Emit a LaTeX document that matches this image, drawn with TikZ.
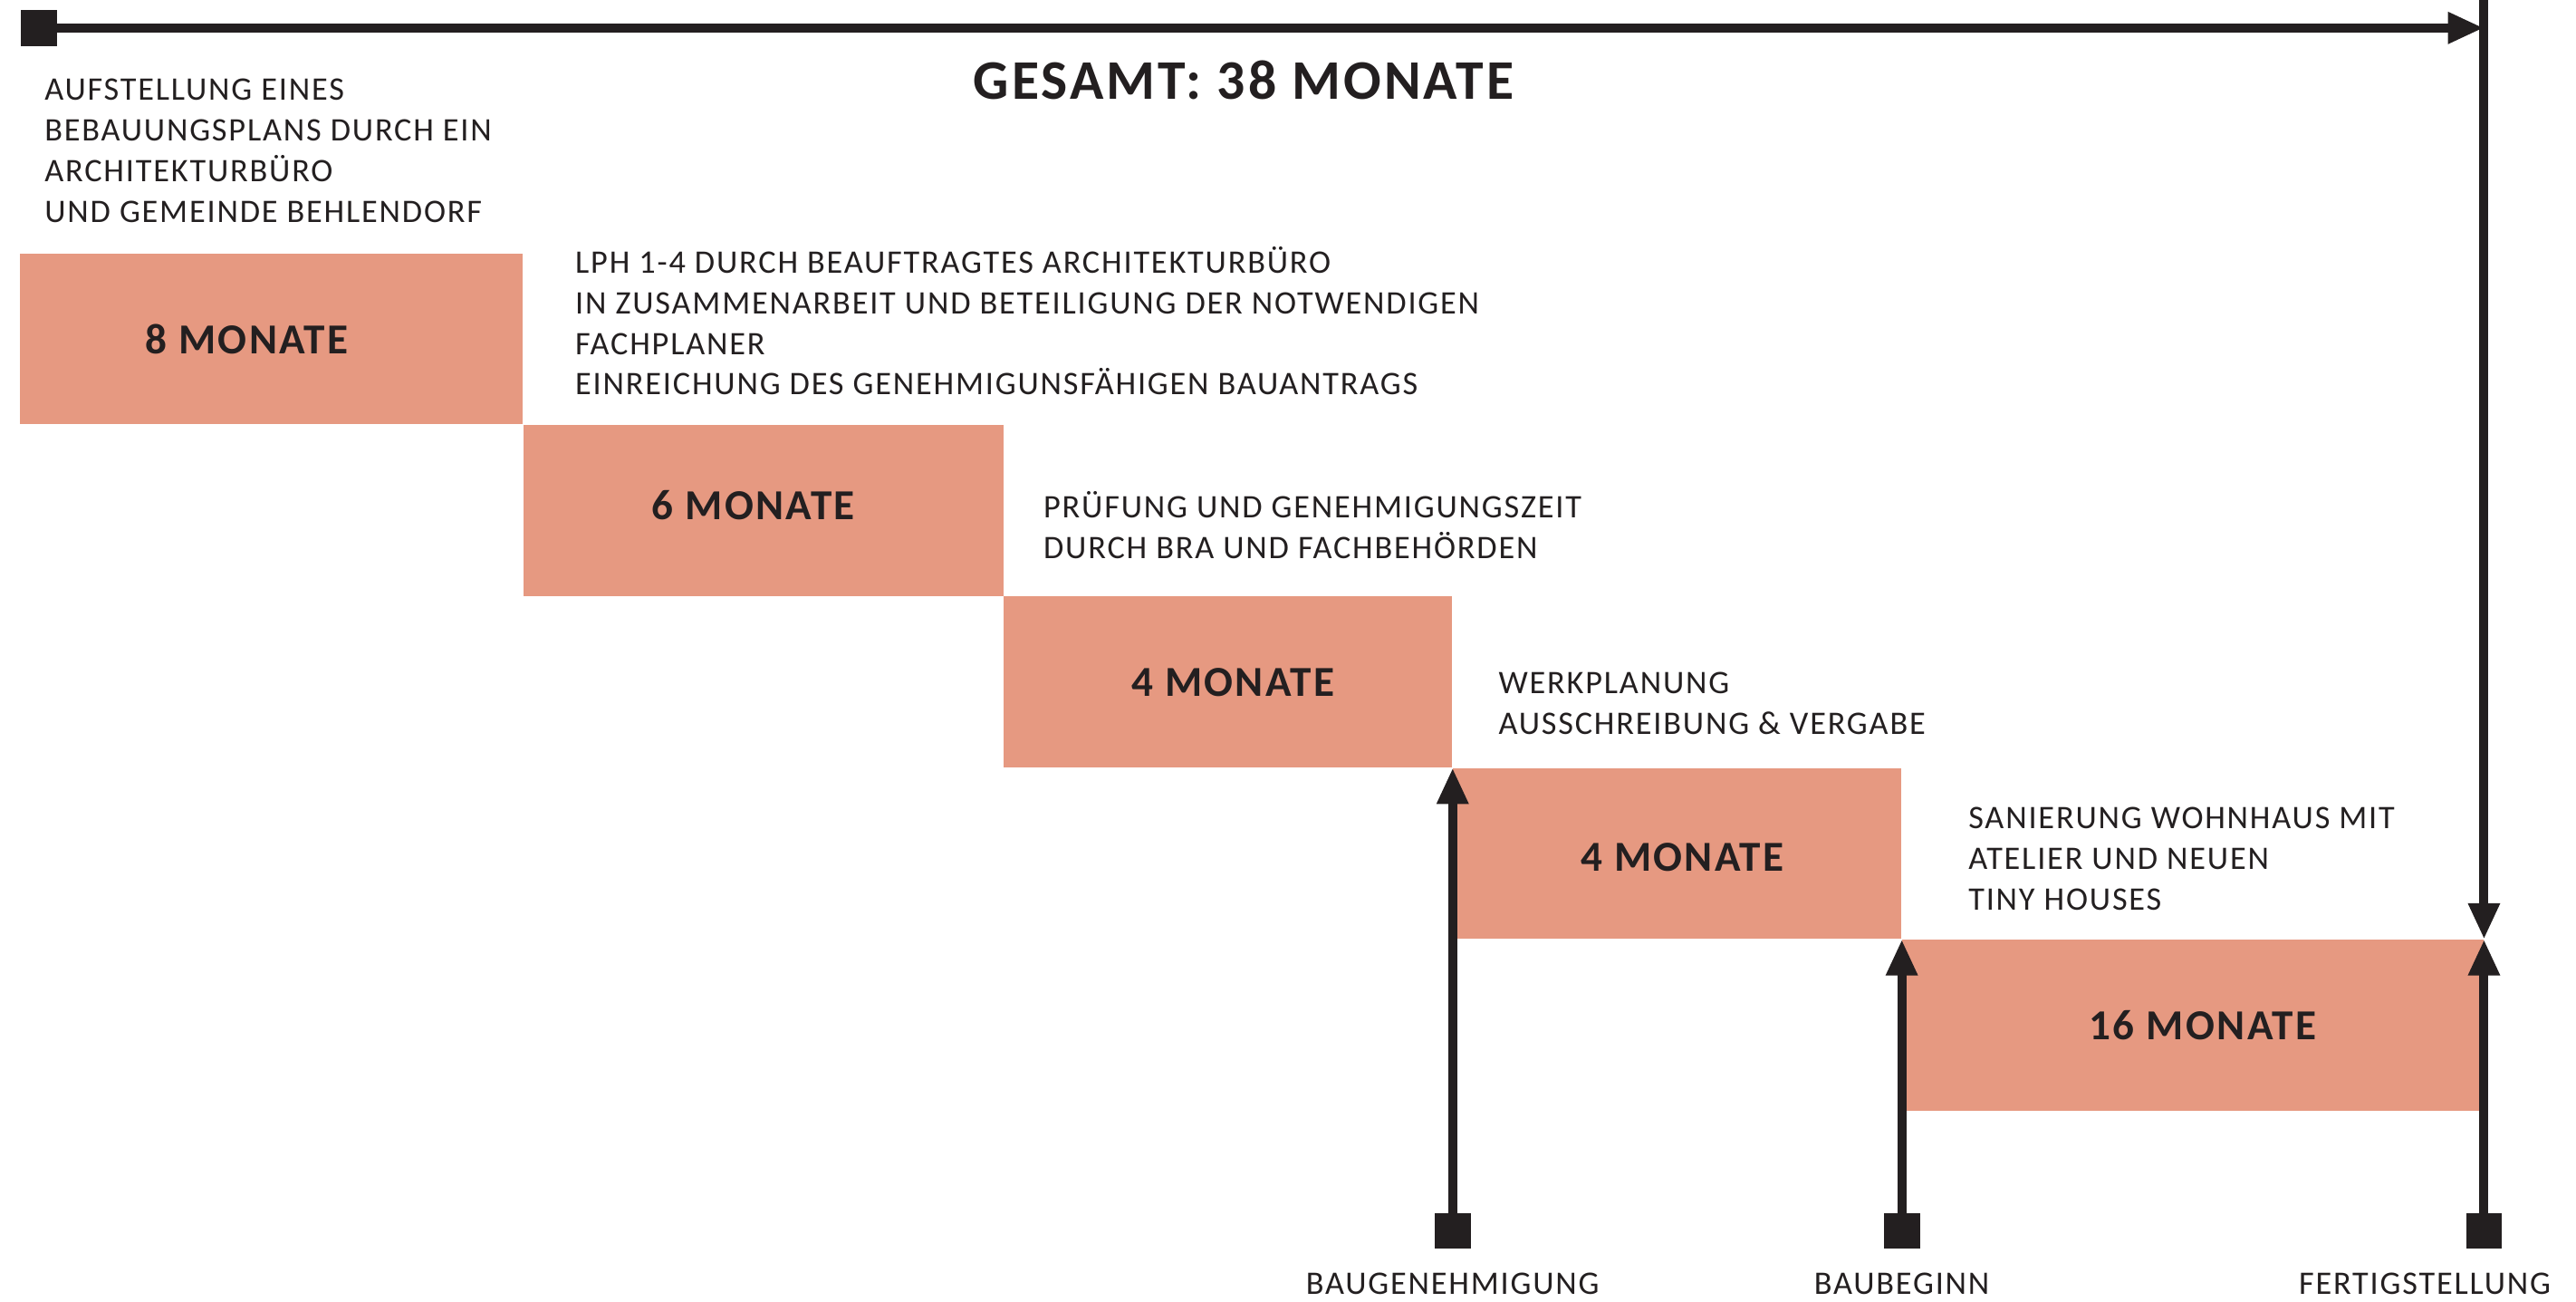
\documentclass[tikz,border=0pt]{standalone}
\usepackage{fontspec}
\setmainfont{Carlito}
\newfontfamily\trackfont[LetterSpace=5]{Carlito}
\usetikzlibrary{positioning, arrows.meta, calc}
\definecolor{phase}{RGB}{230,153,129}
\definecolor{ink}{RGB}{35,31,32}
\tikzset{
  phasebox/.style={fill=phase, draw=none, minimum height=104pt, inner sep=0pt, anchor=north west},
  phaselabel/.style={text=ink, inner sep=0pt, font=\trackfont\bfseries\fontsize{26}{30}\selectfont},
  phasetext/.style={anchor=north west, align=left, inner sep=0pt, text=ink, font=\trackfont\fontsize{20}{24.7}\selectfont, execute at begin node=\strut},
  milestonetext/.style={anchor=north, inner sep=0pt, text=ink, font=\trackfont\fontsize{20}{24.7}\selectfont},
  milestone/.style={fill=ink, minimum size=22pt, inner sep=0pt},
  rail/.style={draw=ink, line width=5.5pt},
  railarrow/.style={rail, -{Triangle[length=22pt, width=18pt]}},
}

\begin{document}
\begin{tikzpicture}[x=1pt, y=-1pt]
  \useasboundingbox (0,0) rectangle (1568,792);
  % phases
  \node[phasebox, minimum width=306pt, label={[phaselabel, xshift=-15pt]center:8 MONATE}] (p1) at (12,154) {};
  \node[phasebox, minimum width=292pt, label={[phaselabel, xshift=-6pt, yshift=3pt]center:6 MONATE}] (p2) at (p1.south east) {};
  \node[phasebox, minimum width=273pt, label={[phaselabel, xshift=3pt]center:4 MONATE}] (p3) at (p2.south east) {};
  \node[phasebox, minimum width=273pt, label={[phaselabel, xshift=3pt, yshift=-2pt]center:4 MONATE}] (p4) at (p3.south east) {};
  \node[phasebox, minimum width=354pt, label={[phaselabel, xshift=6pt]center:16 MONATE}] (p5) at (p4.south east) {};
  % total
  \node[milestone] (start) at (23.5,17) {};
  \coordinate (top) at (p5.north east |- 0,0);
  \draw[railarrow] (start.center) -- (start -| top);
  \draw[railarrow] (top) -- (p5.north east);
  \node[text=ink, inner sep=0pt, font=\trackfont\bfseries\fontsize{34}{40}\selectfont] (total) at (757,49) {GESAMT: 38 MONATE};
  % descriptions
  \node[phasetext] (t1) at (27,48) {AUFSTELLUNG EINES\\BEBAUUNGSPLANS DURCH EIN\\ARCHITEKTURBÜRO\\UND GEMEINDE BEHLENDORF};
  \node[phasetext] (t2) at (350,150) {LPH 1-4 DURCH BEAUFTRAGTES ARCHITEKTURBÜRO\\IN ZUSAMMENARBEIT UND BETEILIGUNG DER NOTWENDIGEN\\FACHPLANER\\EINREICHUNG DES GENEHMIGUNSFÄHIGEN BAUANTRAGS};
  \node[phasetext] (t3) at (635,299) {PRÜFUNG UND GENEHMIGUNGSZEIT\\DURCH BRA UND FACHBEHÖRDEN};
  \node[phasetext] (t4) at (912,409) {WERKPLANUNG\\AUSSCHREIBUNG \& VERGABE};
  \node[phasetext] (t5) at (1198,491) {SANIERUNG WOHNHAUS MIT\\ATELIER UND NEUEN\\TINY HOUSES};
  % milestones
  \foreach \n/\p/\s/\l in {gen/p4.north west/0/BAUGENEHMIGUNG, beg/p5.north west/0/BAUBEGINN, fert/p5.north east/-36/FERTIGSTELLUNG} {
    \node[milestone] (\n) at (\p |- 0,749) {};
    \draw[railarrow] (\n.center) -- (\p);
    \node[milestonetext, below=14pt of \n, xshift=\s pt] (\n-label) {\l};
  }
\end{tikzpicture}
\end{document}
